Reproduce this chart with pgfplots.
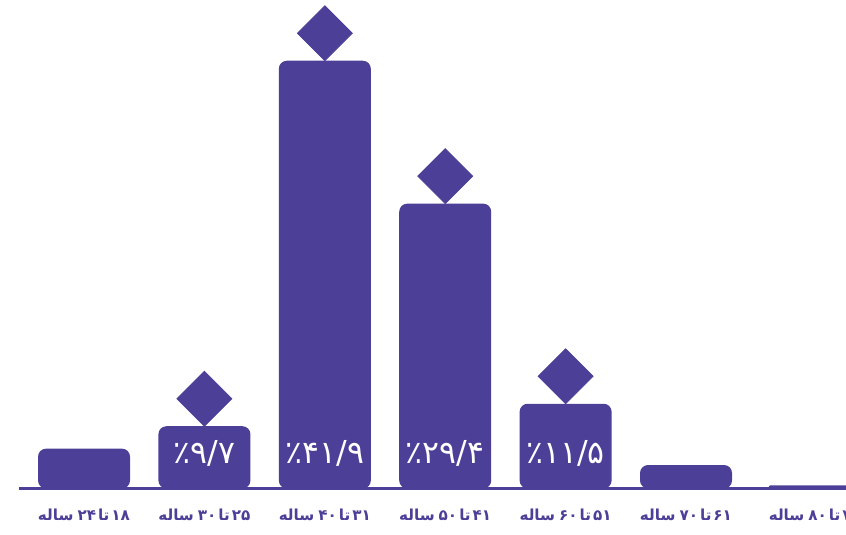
\documentclass[border=0pt]{standalone}
\usepackage{fontspec}
\usepackage{pgfplots}
\pgfplotsset{compat=1.18}
\TeXXeTstate=1
\newfontfamily\arabicfont[Script=Arabic]{DejaVu Sans}
\definecolor{barc}{RGB}{75,63,151}
\newcommand\lab[2]{\beginR #1\hspace{1pt}تا\hspace{1pt}#2\hspace{2pt}ساله\endR}

\begin{document}
\begin{tikzpicture}
\useasboundingbox (0,0) rectangle (423pt,267.5pt);
\clip (0,0) rectangle (423pt,267.5pt);
\begin{axis}[
  at={(9.5pt,23.25pt)}, anchor=south west,
  scale only axis, width=425.5pt, height=244.25pt,
  xmin=-0.54, xmax=6.528, ymin=0, ymax=47.85,
  axis y line=none, axis x line=bottom,
  x axis line style={-, line width=1.5pt, barc},
  xtick={0,1,2,3,4,5,6.07}, major tick length=0pt,
  xticklabels={
    {\lab{۱۸}{۲۴}},
    {\lab{۲۵}{۳۰}},
    {\lab{۳۱}{۴۰}},
    {\lab{۴۱}{۵۰}},
    {\lab{۵۱}{۶۰}},
    {\lab{۶۱}{۷۰}},
    {\lab{۷۱}{۸۰}}},
  xticklabel style={font=\arabicfont\bfseries\fontsize{7.6}{7.6}\selectfont, text=barc, anchor=center, yshift=-13.25pt},
  clip=false,
]
\addplot[ybar, bar shift=0pt, bar width=46pt, fill=barc, draw=none, rounded corners=4pt]
  coordinates {(0,3.9) (1,6.1) (2,41.9) (3,27.9) (4,8.3) (5,2.3)};
\addplot[ybar, bar shift=0pt, bar width=46pt, fill=barc, draw=none, rounded corners=0.6pt]
  coordinates {(6.07,0.3)};
\addplot[only marks, mark=square*, mark size=9.7pt, color=barc,
  mark options={draw=none, fill=barc, yshift=13.75pt, rotate=45}]
  coordinates {(1,6.1) (2,41.9) (3,27.9) (4,8.3)};
\addplot[only marks, mark=none, nodes near coords, point meta=explicit symbolic,
  nodes near coords style={anchor=center, text=white, font=\arabicfont\fontsize{15.8}{15.8}\selectfont}]
  coordinates {(1,3.4) [٪۹/۷] (2,3.4) [٪۴۱/۹] (3,3.4) [٪۲۹/۴] (4,3.4) [٪۱۱/۵]};
\end{axis}
\end{tikzpicture}
\end{document}
